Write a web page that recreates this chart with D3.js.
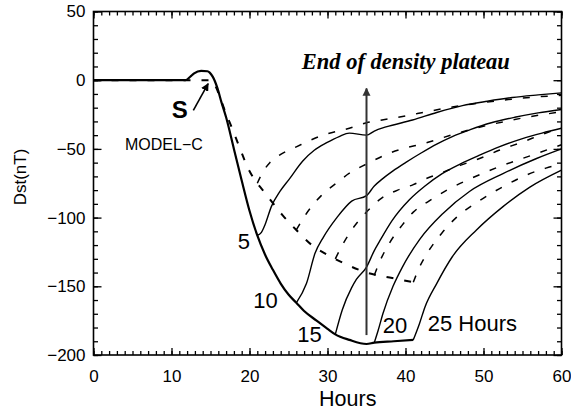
<!DOCTYPE html>
<html>
<head>
<meta charset="utf-8">
<script src="https://cdn.jsdelivr.net/npm/d3@7"></script>
<style>
  body { margin: 0; background: #fff; }
  svg { display: block; }
</style>
</head>
<body>
<svg id="chart" width="571" height="410"></svg>
<script>
// Dst response (nT) versus time (hours), MODEL-C.
// Each series is a list of [hour, Dst] samples.

const xTicks = [0, 10, 20, 30, 40, 50, 60];
const yTicks = [-200, -150, -100, -50, 0, 50];
const plateauLengths = ["5", "10", "15", "20", "25 Hours"];
const plateauEndHour = 35;

// Main storm curve (solid) and its dashed counterpart
const mainSolid = [
  [0, 0], [11.8, 0], [12.4, 2.5], [12.9, 5], [13.8, 6.8], [14.6, 6.5], [14.9, 5.5],
  [15.3, 2.4], [15.9, -6], [16.4, -16], [17, -27], [18, -50], [19, -73], [20, -95],
  [21, -113], [22, -127], [23, -138], [24, -148], [25, -156], [26, -162], [27, -168],
  [28.6, -175], [30, -181], [31, -185], [32.8, -189], [35, -192], [36, -191],
  [38.5, -190], [41, -189]
];
const mainDashed = [
  [0, 0], [15.2, 0], [15.7, -5], [16.2, -12], [16.7, -20], [17.7, -34], [18.8, -50],
  [19.8, -64], [21, -75], [22, -82], [22.8, -88], [24.2, -98], [26, -109], [28, -120],
  [30.3, -128], [32.4, -134], [35, -140], [38.3, -144], [41, -147]
];

// Recovery branches (solid), one per plateau length
const recovery5 = [
  [21, -113], [21.5, -111], [22, -105], [22.8, -92], [23.9, -81], [25.1, -72],
  [26.8, -59], [28.3, -51], [29.9, -45.5], [31.5, -41], [32.8, -38.5], [35, -40],
  [36, -37], [37.5, -34], [40.9, -29], [44, -23.5], [47.3, -18.5], [50.5, -15.3],
  [53.7, -12.6], [57, -10.7], [60, -9.2]
];
const recovery10 = [
  [26, -162], [27.3, -148], [28.4, -126], [29.5, -114], [31.2, -100], [33.1, -88],
  [35, -84], [36, -77], [37, -72], [38.4, -66], [40, -60], [42, -53], [44, -46.5],
  [46, -41], [48.3, -36], [51, -31], [54, -27], [57, -23.8], [60, -21.3]
];
const recovery15 = [
  [31, -185], [31.9, -167], [33.1, -151], [33.7, -145], [35, -136], [36, -124],
  [36.7, -117], [38.3, -102], [40.5, -87], [42.5, -77], [44.7, -68], [47, -61],
  [49.5, -54.5], [52, -48.5], [55, -42.5], [57.5, -38.5], [60, -35]
];
const recovery20 = [
  [36, -191], [36.5, -182], [37.1, -170], [38.4, -150], [39.6, -136], [41.8, -116],
  [44.8, -97], [48.2, -81], [52.5, -68], [56.8, -57], [60, -50]
];
const recovery25 = [
  [41, -189], [41.8, -177], [42.5, -165], [44, -148], [46, -128.5], [49.1, -109],
  [52.5, -92], [55.9, -78], [60, -65.5]
];

// Recovery branches (dashed)
const recoveryDashed5 = [
  [21, -75], [21.8, -66], [22.6, -60], [24, -54], [26, -48.5], [29.4, -40],
  [32.8, -35], [35, -31], [37, -29], [40, -26], [42.7, -23], [46, -19.5],
  [50.4, -16], [55, -13], [60, -11]
];
const recoveryDashed10 = [
  [26, -109], [27.3, -97], [29.2, -84], [31.1, -75], [33, -67], [35, -61],
  [38, -53], [43, -45], [47, -38], [50.4, -33], [55, -27.5], [60, -23]
];
const recoveryDashed15 = [
  [31, -130], [32, -119], [33.1, -109], [35, -96], [36.9, -86], [39, -80],
  [41, -76], [42.5, -72], [44.8, -67], [47, -62], [49.5, -57], [52, -51],
  [55, -45], [57.5, -39.5], [60, -34.5]
];
const recoveryDashed20 = [
  [36, -142], [36.7, -132], [38, -118], [39.5, -106], [41, -96], [43, -88],
  [45.3, -80], [48.2, -72], [52, -63], [56, -55], [60, -47]
];
const recoveryDashed25 = [
  [41, -147], [41.8, -136], [43, -124], [44.7, -111], [46.5, -100], [48.6, -91],
  [50.8, -83], [53, -76], [55.5, -69], [58, -64], [60, -61]
];

const solidBranches = [recovery5, recovery10, recovery15, recovery20, recovery25];
const dashedBranches = [recoveryDashed5, recoveryDashed10, recoveryDashed15,
                        recoveryDashed20, recoveryDashed25];

// ---------------------------------------------------------------------------
const svg = d3.select("#chart");
const plotLeft = 93.5, plotRight = 561.5, plotTop = 11.5, plotBottom = 355;
const x = d3.scaleLinear().domain([0, 60]).range([plotLeft, plotRight]);
const y = d3.scaleLinear().domain([-200, 50]).range([plotBottom, plotTop]);
const sans = "'Liberation Sans', Arial, Helvetica, sans-serif";

const defs = svg.append("defs");
defs.append("clipPath").attr("id", "plotClip")
  .append("rect").attr("x", plotLeft).attr("y", plotTop)
  .attr("width", plotRight - plotLeft).attr("height", plotBottom - plotTop);
defs.append("marker").attr("id", "headGray")
  .attr("viewBox", "0 0 10 10").attr("refX", 9).attr("refY", 5)
  .attr("markerWidth", 8).attr("markerHeight", 10).attr("markerUnits", "userSpaceOnUse")
  .attr("orient", "auto")
  .append("path").attr("d", "M0,0 L10,5 L0,10 Z").attr("fill", "#333");
defs.append("marker").attr("id", "headBlack")
  .attr("viewBox", "0 0 10 10").attr("refX", 9).attr("refY", 5)
  .attr("markerWidth", 8).attr("markerHeight", 8).attr("markerUnits", "userSpaceOnUse")
  .attr("orient", "auto")
  .append("path").attr("d", "M0,0 L10,5 L0,10 Z").attr("fill", "#000");

// Axes: ticks point inward on all four sides
function styleAxis(g) {
  g.select(".domain").remove();
  g.selectAll(".tick line").attr("stroke", "#000").attr("stroke-width", 1.3);
  g.selectAll(".tick text").attr("fill", "#000")
    .style("font-family", sans).style("font-size", "17px");
}
const minorX = d3.range(0, 61, 1);
const minorY = d3.range(-200, 51, 10);

svg.append("g").attr("transform", `translate(0,${plotBottom})`)
  .call(d3.axisBottom(x).tickValues(minorX).tickSize(-4).tickFormat(""))
  .call(styleAxis);
svg.append("g").attr("transform", `translate(0,${plotBottom})`)
  .call(d3.axisBottom(x).tickValues(xTicks).tickSize(-7).tickPadding(14.5).tickFormat(d3.format("d")))
  .call(styleAxis);
svg.append("g").attr("transform", `translate(0,${plotTop})`)
  .call(d3.axisTop(x).tickValues(minorX).tickSize(-4).tickFormat(""))
  .call(styleAxis);
svg.append("g").attr("transform", `translate(0,${plotTop})`)
  .call(d3.axisTop(x).tickValues(xTicks).tickSize(-7).tickFormat(""))
  .call(styleAxis);

svg.append("g").attr("transform", `translate(${plotLeft},0)`)
  .call(d3.axisLeft(y).tickValues(minorY).tickSize(-4.5).tickFormat(""))
  .call(styleAxis);
svg.append("g").attr("transform", `translate(${plotLeft},0)`)
  .call(d3.axisLeft(y).tickValues(yTicks).tickSize(-8).tickPadding(8).tickFormat(d3.format("d")))
  .call(styleAxis);
svg.append("g").attr("transform", `translate(${plotRight},0)`)
  .call(d3.axisRight(y).tickValues(minorY).tickSize(-4.5).tickFormat(""))
  .call(styleAxis);
svg.append("g").attr("transform", `translate(${plotRight},0)`)
  .call(d3.axisRight(y).tickValues(yTicks).tickSize(-8).tickFormat(""))
  .call(styleAxis);

svg.append("rect")
  .attr("x", plotLeft).attr("y", plotTop)
  .attr("width", plotRight - plotLeft).attr("height", plotBottom - plotTop)
  .attr("fill", "none").attr("stroke", "#000").attr("stroke-width", 1.6);

// Curves
const line = d3.line()
  .x(d => x(d[0])).y(d => y(d[1]))
  .curve(d3.curveMonotoneX);
const plot = svg.append("g").attr("clip-path", "url(#plotClip)");

plot.selectAll("path.branchDashed").data(dashedBranches).join("path")
  .attr("class", "branchDashed")
  .attr("d", line).attr("fill", "none").attr("stroke", "#000")
  .attr("stroke-width", 1.5).attr("stroke-dasharray", "7,11");
plot.append("path").datum(mainDashed)
  .attr("d", line).attr("fill", "none").attr("stroke", "#000")
  .attr("stroke-width", 2).attr("stroke-dasharray", "7,11");
plot.selectAll("path.branchSolid").data(solidBranches).join("path")
  .attr("class", "branchSolid")
  .attr("d", line).attr("fill", "none").attr("stroke", "#000")
  .attr("stroke-width", 1.4);
plot.append("path").datum(mainSolid)
  .attr("d", line).attr("fill", "none").attr("stroke", "#000")
  .attr("stroke-width", 2.2).attr("stroke-linejoin", "round");

// End-of-plateau marker
svg.append("line")
  .attr("x1", x(plateauEndHour)).attr("x2", x(plateauEndHour))
  .attr("y1", y(-185.5)).attr("y2", y(-6))
  .attr("stroke", "#333").attr("stroke-width", 2)
  .attr("marker-end", "url(#headGray)");
svg.append("text")
  .attr("x", x(26.7)).attr("y", y(8.5))
  .style("font-family", "'Liberation Serif', 'Times New Roman', serif")
  .style("font-weight", "bold").style("font-style", "italic").style("font-size", "22.5px")
  .text("End of density plateau");

// Storm sudden commencement marker
svg.append("line")
  .attr("x1", x(12.8)).attr("y1", y(-22))
  .attr("x2", x(14.7)).attr("y2", y(-2.5))
  .attr("stroke", "#000").attr("stroke-width", 1.6)
  .attr("marker-end", "url(#headBlack)");
svg.append("text")
  .attr("x", x(10.03)).attr("y", y(-27.6))
  .style("font-family", sans).style("font-weight", "bold").style("font-size", "24px")
  .text("S");
svg.append("text")
  .attr("x", x(4.04)).attr("y", y(-50.9))
  .style("font-family", sans).style("font-size", "16px")
  .text("MODEL\u2212C");

// Plateau-length labels
const labelAnchors = [[18.49, -122.5], [20.49, -165.8], [26.13, -190.8], [37.08, -184.2], [42.85, -182.3]];
svg.selectAll("text.plateauLabel").data(plateauLengths).join("text")
  .attr("class", "plateauLabel")
  .attr("x", (d, i) => x(labelAnchors[i][0]))
  .attr("y", (d, i) => y(labelAnchors[i][1]))
  .style("font-family", sans).style("font-size", "22px")
  .text(d => d);

// Axis titles
svg.append("text")
  .attr("x", x(32.6)).attr("y", 405.5)
  .attr("text-anchor", "middle")
  .style("font-family", sans).style("font-size", "21.5px")
  .text("Hours");
svg.append("text")
  .attr("transform", "translate(26,177) rotate(-90)")
  .attr("text-anchor", "middle")
  .style("font-family", sans).style("font-size", "17px")
  .text("Dst(nT)");
</script>
</body>
</html>
